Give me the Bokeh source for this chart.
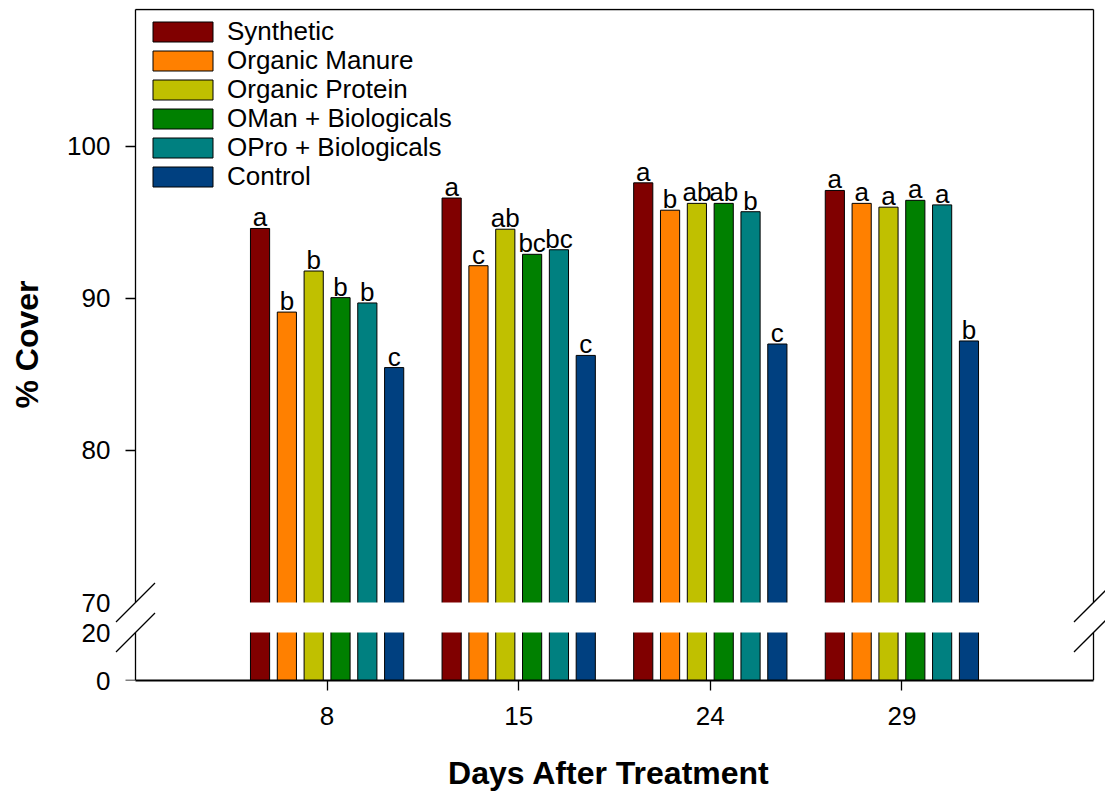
import numpy as np
from bokeh.plotting import figure
from bokeh.models import (Range1d, LinearAxis, FixedTicker, ColumnDataSource,
                          Legend, LegendItem, BoxAnnotation, Arrow)
from bokeh.transform import dodge
from bokeh.core.properties import value
from bokeh.embed import file_html
from bokeh.resources import INLINE

# ---------------- data ----------------
days = ["8", "15", "24", "29"]
series_names = ["Synthetic", "Organic Manure", "Organic Protein",
                "OMan + Biologicals", "OPro + Biologicals", "Control"]
synthetic = [94.6, 96.6, 97.6, 97.1]
organic_manure = [89.1, 92.15, 95.8, 96.25]
organic_protein = [91.8, 94.55, 96.25, 96.0]
oman_bio = [90.05, 92.9, 96.25, 96.45]
opro_bio = [89.7, 93.2, 95.7, 96.15]
control = [85.45, 86.25, 87.0, 87.2]

letters_synthetic = ["a", "a", "a", "a"]
letters_manure = ["b", "c", "b", "a"]
letters_protein = ["b", "ab", "ab", "a"]
letters_oman = ["b", "bc", "ab", "a"]
letters_opro = ["b", "bc", "b", "a"]
letters_control = ["c", "c", "c", "b"]

upper_ticks = [70, 80, 90, 100]
lower_ticks = [0, 20]

colors = ["#800000", "#FF8000", "#C0C000", "#008000", "#008080", "#004080"]

values = [synthetic, organic_manure, organic_protein, oman_bio, opro_bio, control]
letters = [letters_synthetic, letters_manure, letters_protein,
           letters_oman, letters_opro, letters_control]

# ---------------- layout constants ----------------
FONT = "Liberation Sans"
TOP_PAD, UP_H, GAP, LOW_H = 1, 593, 30, 48
FRAME_H = TOP_PAD + UP_H + GAP + LOW_H
PLOT_W = 958                 # width of the drawn box (axis to axis)
LEFT_EXTRA, RIGHT_EXTRA = 23, 12
FRAME_W = PLOT_W + LEFT_EXTRA + RIGHT_EXTRA
UP_MIN, UP_MAX = 70, 109
LOW_MIN, LOW_MAX = 0, 20
up_px = UP_H / (UP_MAX - UP_MIN)
low_px = LOW_H / (LOW_MAX - LOW_MIN)
N_SLOTS = len(days) + 1
x_px = PLOT_W / N_SLOTS
X0, X1 = 0, N_SLOTS
BAR_W = 0.1
STEP = 0.14
LEG_X, LEG_TOP, LEG_PITCH, LEG_ITEM_H = 33, 7.5, 29, 31


def low_to_up(v):
    """position of a lower-segment value expressed on the upper scale"""
    return round(UP_MIN - (GAP + (LOW_MAX - v) * low_px) / up_px, 6)


x_range = Range1d(X0 - LEFT_EXTRA / x_px, X1 + RIGHT_EXTRA / x_px)
y_range = Range1d(low_to_up(LOW_MIN), UP_MAX + TOP_PAD / up_px)

p = figure(x_range=x_range, y_range=y_range, frame_width=FRAME_W, frame_height=FRAME_H,
           min_border_left=112, min_border_right=0, min_border_top=8, min_border_bottom=100,
           toolbar_location=None, output_backend="svg")
p.extra_y_ranges = {"low": Range1d(LOW_MIN, FRAME_H / low_px)}
p.outline_line_color = None
p.xgrid.visible = False
p.ygrid.visible = False
p.background_fill_color = "white"
xa = p.below[0]
ya = p.left[0]

data = {"pos": list(range(1, len(days) + 1))}
for i in range(6):
    data[f"v{i}"] = values[i]
    data[f"l{i}"] = letters[i]
src = ColumnDataSource(data)

bar_renderers = []
for i in range(6):
    off = (i - 2.5) * STEP
    r = p.vbar(x=dodge("pos", off), top=f"v{i}", bottom=0, width=BAR_W,
               source=src, fill_color=colors[i], line_color="black", line_width=1)
    bar_renderers.append(r)
    p.text(x=dodge("pos", off), y=f"v{i}", text=f"l{i}", source=src,
           text_align="center", text_baseline="alphabetic", y_offset=-11,
           text_font=value(FONT), text_font_size="26px", text_color="black")

# white break band
p.add_layout(BoxAnnotation(bottom=low_to_up(LOW_MAX), top=UP_MIN,
                           fill_color="white", fill_alpha=1, line_color=None))

TICK_FONT = "26px"
LW = 1.3

# tick labels + title on the panel axis (labels only)
tick_pos = [low_to_up(v) for v in lower_ticks] + upper_ticks
tick_txt = [str(v) for v in lower_ticks] + [str(v) for v in upper_ticks]
ya.ticker = FixedTicker(ticks=tick_pos)
ya.major_label_overrides = {k: t for k, t in zip(tick_pos, tick_txt)}
ya.axis_line_color = None
ya.major_tick_line_color = None
ya.minor_tick_line_color = None
ya.major_tick_out = 0
ya.major_tick_in = 0
ya.major_label_standoff = 2
ya.major_label_text_font = FONT
ya.major_label_text_font_size = TICK_FONT
ya.major_label_text_color = "black"
ya.axis_label = "% Cover"
ya.axis_label_text_font = FONT
ya.axis_label_text_font_size = "32px"
ya.axis_label_text_font_style = "bold"
ya.axis_label_text_color = "black"
ya.axis_label_standoff = 19

# x axis
xa.bounds = (X0, X1)
xa.ticker = FixedTicker(ticks=data["pos"])
xa.major_label_overrides = {k: d for k, d in zip(data["pos"], days)}
xa.axis_line_width = 2
xa.axis_line_color = "black"
xa.major_tick_out = 10
xa.major_tick_in = 0
xa.major_tick_line_width = LW
xa.major_tick_line_color = "black"
xa.minor_tick_line_color = None
xa.major_label_standoff = 16
xa.major_label_text_font = FONT
xa.major_label_text_font_size = TICK_FONT
xa.major_label_text_color = "black"
xa.axis_label = "Days After Treatment"
xa.axis_label_text_font = FONT
xa.axis_label_text_font_size = "32px"
xa.axis_label_text_font_style = "bold"
xa.axis_label_text_color = "black"
xa.axis_label_standoff = 27


def rule_axis(loc, bounds, ticks, rng=None):
    kw = {} if rng is None else {"y_range_name": rng}
    ax = LinearAxis(fixed_location=loc, ticker=FixedTicker(ticks=ticks), bounds=bounds, **kw)
    ax.axis_line_width = LW
    ax.axis_line_color = "black"
    ax.major_tick_out = 10
    ax.major_tick_in = 0
    ax.major_tick_line_width = LW
    ax.major_tick_line_color = "black"
    ax.minor_tick_line_color = None
    ax.major_label_text_color = None
    ax.major_label_text_font_size = "1px"
    return ax


p.add_layout(rule_axis(X0, (UP_MIN, UP_MAX), [t for t in upper_ticks if t > UP_MIN]), "left")
p.add_layout(rule_axis(X0, (LOW_MIN, LOW_MAX), [t for t in lower_ticks if t < LOW_MAX], "low"), "left")
p.add_layout(rule_axis(X1, (UP_MIN, UP_MAX), []), "right")
p.add_layout(rule_axis(X1, (LOW_MIN, LOW_MAX), [], "low"), "right")
p.add_layout(rule_axis(UP_MAX, (X0, X1), []), "above")

# break marks
dx = 19.5 / x_px
for xc in (X0, X1):
    dyu = 19.5 / up_px
    p.add_layout(Arrow(end=None, x_start=xc - dx, y_start=UP_MIN - dyu,
                       x_end=xc + dx, y_end=UP_MIN + dyu, line_width=LW, line_color="black"))
    dyl = 19.5 / low_px
    p.add_layout(Arrow(end=None, y_range_name="low", x_start=xc - dx, y_start=LOW_MAX - dyl,
                       x_end=xc + dx, y_end=LOW_MAX + dyl, line_width=LW, line_color="black"))

# legend: one entry per row so the row pitch matches
for i, r in enumerate(bar_renderers):
    vy = FRAME_H - (LEG_TOP + LEG_PITCH * i) - LEG_ITEM_H
    leg = Legend(items=[LegendItem(label=series_names[i], renderers=[r])],
                 location=(LEG_X, vy), margin=0, padding=0, spacing=0,
                 glyph_width=75, glyph_height=25, label_standoff=7,
                 label_text_font=FONT, label_text_font_size="26px", label_text_color="black",
                 border_line_color=None, background_fill_alpha=0)
    p.add_layout(leg)

open("out.html", "w").write(file_html(p, INLINE))
